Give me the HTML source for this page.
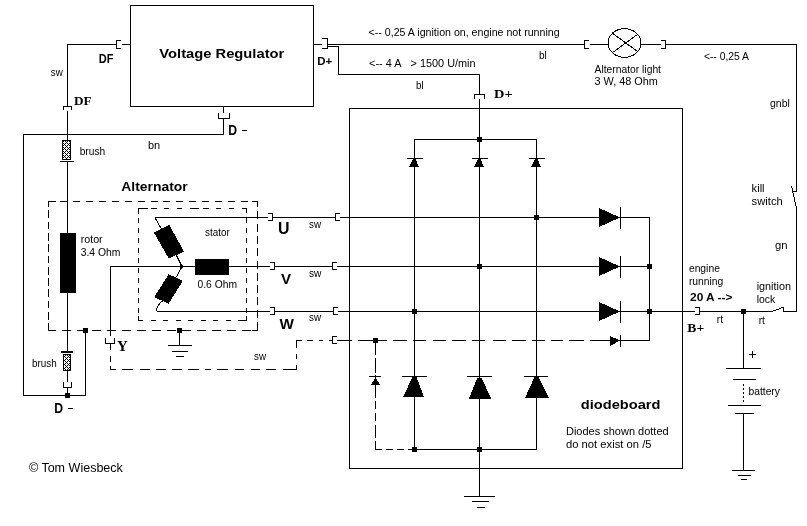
<!DOCTYPE html>
<html><head><meta charset="utf-8"><title>Alternator wiring</title>
<style>
html,body{margin:0;padding:0;background:#fff;}
body{width:807px;height:526px;overflow:hidden;}
svg{display:block;will-change:transform;}
svg rect{fill:#000;}
svg text{fill:#000;}
.d{stroke:#000;stroke-width:1;fill:none;}
.s{stroke:#000;stroke-width:1;fill:none;}
.g{fill:#000;stroke:none;}
</style></head>
<body>
<svg width="807" height="526" viewBox="0 0 807 526" shape-rendering="crispEdges">
<defs>
<pattern id="hatch" x="0" y="0" width="4" height="4" patternUnits="userSpaceOnUse">
<rect x="0" y="0" width="4" height="4" style="fill:#fff"/>
<rect x="0" y="0" width="1" height="1"/><rect x="1" y="1" width="1" height="1"/><rect x="2" y="2" width="1" height="1"/><rect x="3" y="3" width="1" height="1"/>
<rect x="3" y="1" width="1" height="1"/><rect x="1" y="3" width="1" height="1"/>
</pattern>
</defs>
<rect x="0" y="0" width="807" height="526" style="fill:#fff"/>
<rect x="130" y="5" width="184" height="1"/>
<rect x="130" y="106" width="184" height="1"/>
<rect x="130" y="5" width="1" height="102"/>
<rect x="313" y="5" width="1" height="102"/>
<rect x="116" y="40" width="5" height="1"/>
<rect x="116" y="48" width="5" height="1"/>
<rect x="116" y="40" width="1" height="9"/>
<rect x="122" y="44" width="8" height="1"/>
<rect x="67" y="44" width="50" height="1"/>
<rect x="67" y="44" width="1" height="63"/>
<rect x="63" y="106" width="9" height="1"/>
<rect x="63" y="106" width="1" height="4"/>
<rect x="71" y="106" width="1" height="4"/>
<rect x="67" y="111" width="1" height="29"/>
<rect x="314" y="44" width="8" height="1"/>
<rect x="322" y="38" width="6" height="1"/>
<rect x="322" y="48" width="6" height="1"/>
<rect x="327" y="38" width="1" height="11"/>
<rect x="328" y="44" width="256" height="1"/>
<rect x="328" y="46" width="11" height="1"/>
<rect x="338" y="46" width="1" height="29"/>
<rect x="338" y="74" width="142" height="1"/>
<rect x="479" y="74" width="1" height="21"/>
<rect x="474" y="94" width="11" height="1"/>
<rect x="474" y="94" width="1" height="5"/>
<rect x="484" y="94" width="1" height="5"/>
<rect x="479" y="99" width="1" height="398"/>
<rect x="223" y="107" width="1" height="6"/>
<rect x="218" y="118" width="12" height="1"/>
<rect x="218" y="113" width="1" height="6"/>
<rect x="229" y="113" width="1" height="6"/>
<rect x="223" y="118" width="1" height="17"/>
<rect x="23" y="134" width="201" height="1"/>
<rect x="23" y="134" width="1" height="262"/>
<rect x="23" y="395" width="63" height="1"/>
<rect x="85" y="330" width="1" height="66"/>
<rect x="83" y="328" width="5" height="5"/>
<rect x="65" y="393" width="5" height="5"/>
<rect x="62" y="140" width="9" height="1"/>
<rect x="62" y="159" width="9" height="1"/>
<rect x="62" y="140" width="1" height="20"/>
<rect x="70" y="140" width="1" height="20"/>
<rect x="63" y="141" width="7" height="18" style="fill:url(#hatch)"/>
<rect x="60" y="161" width="14" height="1"/>
<rect x="67" y="162" width="1" height="71"/>
<rect x="60" y="233" width="16" height="60"/>
<rect x="67" y="293" width="1" height="58"/>
<rect x="61" y="351" width="12" height="2"/>
<rect x="63" y="354" width="8" height="1"/>
<rect x="63" y="370" width="8" height="1"/>
<rect x="63" y="354" width="1" height="17"/>
<rect x="70" y="354" width="1" height="17"/>
<rect x="64" y="355" width="6" height="15" style="fill:url(#hatch)"/>
<rect x="67" y="371" width="1" height="11"/>
<rect x="63" y="387" width="9" height="1"/>
<rect x="63" y="382" width="1" height="6"/>
<rect x="71" y="382" width="1" height="6"/>
<rect x="67" y="388" width="1" height="8"/>
<line class="d" x1="48" y1="201.5" x2="258" y2="201.5" stroke-dasharray="7 5.9" stroke-dashoffset="0.7"/>
<line class="d" x1="48" y1="330.5" x2="258" y2="330.5" stroke-dasharray="9 6" stroke-dashoffset="1.1"/>
<line class="d" x1="48.5" y1="201" x2="48.5" y2="331" stroke-dasharray="7.7 3.6" stroke-dashoffset="2"/>
<line class="d" x1="257.5" y1="201" x2="257.5" y2="331" stroke-dasharray="8 4.3" stroke-dashoffset="2"/>
<line class="d" x1="138" y1="208.5" x2="247" y2="208.5" stroke-dasharray="9 4 6 7 5 8 5 8" stroke-dashoffset="0"/>
<line class="d" x1="138" y1="320.5" x2="247" y2="320.5" stroke-dasharray="5 7.5" stroke-dashoffset="0"/>
<line class="d" x1="138.5" y1="208" x2="138.5" y2="321" stroke-dasharray="5 5" stroke-dashoffset="0"/>
<line class="d" x1="246.5" y1="208" x2="246.5" y2="321" stroke-dasharray="5 5" stroke-dashoffset="0"/>
<rect x="48" y="201" width="8" height="1"/>
<rect x="48" y="201" width="1" height="6"/>
<rect x="252" y="201" width="6" height="1"/>
<rect x="257" y="201" width="1" height="6"/>
<rect x="48" y="330" width="8" height="1"/>
<rect x="48" y="325" width="1" height="6"/>
<rect x="252" y="330" width="6" height="1"/>
<rect x="257" y="325" width="1" height="6"/>
<rect x="138" y="208" width="10" height="1"/>
<rect x="138" y="208" width="1" height="6"/>
<rect x="242" y="208" width="5" height="1"/>
<rect x="246" y="208" width="1" height="5"/>
<rect x="138" y="320" width="5" height="1"/>
<rect x="138" y="316" width="1" height="5"/>
<rect x="242" y="320" width="5" height="1"/>
<rect x="246" y="316" width="1" height="5"/>
<rect x="110" y="369" width="6" height="1"/>
<rect x="110" y="366" width="1" height="4"/>
<rect x="290" y="369" width="7" height="1"/>
<rect x="296" y="365" width="1" height="5"/>
<rect x="296" y="340" width="6" height="1"/>
<rect x="296" y="340" width="1" height="8"/>
<rect x="375" y="449" width="6" height="1"/>
<rect x="375" y="444" width="1" height="6"/>
<rect x="155" y="217" width="113" height="1"/>
<rect x="110" y="266" width="160" height="1"/>
<rect x="157" y="311" width="113" height="1"/>
<rect x="195" y="259" width="34" height="16"/>
<polygon class="g" points="153.8,232.4 169.2,224.8 184,251.5 168.8,258.6"/>
<path class="s" d="M155,217.5 Q158,224 162,229.5" stroke-width="1"/>
<path class="s" d="M176.5,255.5 L181,264.5" stroke-width="1"/>
<polygon class="g" points="179.8,262.8 184.3,266.5 179.8,270.2"/>
<polygon class="g" points="168.7,274.2 182.9,280.8 168.7,303.6 154.1,297.2"/>
<path class="s" d="M181,268.5 L176.5,277" stroke-width="1"/>
<path class="s" d="M162.5,301 Q157,305 156.5,311" stroke-width="1"/>
<rect x="110" y="266" width="1" height="70"/>
<rect x="105" y="343" width="10" height="1"/>
<rect x="105" y="338" width="1" height="6"/>
<rect x="114" y="338" width="1" height="6"/>
<line class="d" x1="110.5" y1="344" x2="110.5" y2="370" stroke-dasharray="5.5 6.5" stroke-dashoffset="0"/>
<line class="d" x1="110" y1="369.5" x2="297" y2="369.5" stroke-dasharray="6 6 11 7 9.5 6.5 9.5 6 10 6.5 10.5 6" stroke-dashoffset="0"/>
<line class="d" x1="296.5" y1="340" x2="296.5" y2="370" stroke-dasharray="8 6 5 6" stroke-dashoffset="0"/>
<line class="d" x1="296" y1="340.5" x2="332" y2="340.5" stroke-dasharray="6 5 6 6 4 6" stroke-dashoffset="0"/>
<rect x="177" y="328" width="5" height="5"/>
<rect x="179" y="330" width="1" height="16"/>
<rect x="168" y="345" width="24" height="1"/>
<rect x="172" y="351" width="16" height="1"/>
<rect x="176" y="356" width="8" height="1"/>
<rect x="268" y="213" width="5" height="1"/>
<rect x="268" y="220" width="5" height="1"/>
<rect x="272" y="213" width="1" height="8"/>
<rect x="273" y="217" width="62" height="1"/>
<rect x="335" y="213" width="5" height="1"/>
<rect x="335" y="220" width="5" height="1"/>
<rect x="335" y="213" width="1" height="8"/>
<rect x="340" y="217" width="259" height="1"/>
<rect x="270" y="262" width="5" height="1"/>
<rect x="270" y="269" width="5" height="1"/>
<rect x="274" y="262" width="1" height="8"/>
<rect x="275" y="266" width="57" height="1"/>
<rect x="332" y="262" width="5" height="1"/>
<rect x="332" y="269" width="5" height="1"/>
<rect x="332" y="262" width="1" height="8"/>
<rect x="337" y="266" width="262" height="1"/>
<rect x="270" y="307" width="5" height="1"/>
<rect x="270" y="314" width="5" height="1"/>
<rect x="274" y="307" width="1" height="8"/>
<rect x="275" y="311" width="58" height="1"/>
<rect x="333" y="307" width="5" height="1"/>
<rect x="333" y="314" width="5" height="1"/>
<rect x="333" y="307" width="1" height="8"/>
<rect x="338" y="311" width="262" height="1"/>
<rect x="332" y="336" width="5" height="1"/>
<rect x="332" y="343" width="5" height="1"/>
<rect x="332" y="336" width="1" height="8"/>
<line class="d" x1="337" y1="340.5" x2="610" y2="340.5" stroke-dasharray="15 6 29 6 13.5 6.5 13 7 13 6 14 6 13 8 13 6 14 6 13 6 12 6" stroke-dashoffset="0"/>
<rect x="349" y="108" width="334" height="1"/>
<rect x="349" y="468" width="334" height="1"/>
<rect x="349" y="108" width="1" height="361"/>
<rect x="682" y="108" width="1" height="361"/>
<rect x="414" y="139" width="123" height="1"/>
<rect x="477" y="137" width="5" height="5"/>
<rect x="414" y="139" width="1" height="311"/>
<rect x="536" y="139" width="1" height="311"/>
<rect x="407" y="158" width="16" height="1"/>
<polygon class="g" points="413,159 415.5,159 419,167 409,167"/>
<rect x="472" y="158" width="16" height="1"/>
<polygon class="g" points="478,159 480.5,159 484,167 474,167"/>
<rect x="529" y="158" width="16" height="1"/>
<polygon class="g" points="535,159 537.5,159 541,167 531,167"/>
<rect x="402" y="376" width="25" height="1"/>
<polygon class="g" points="412.5,377 416.5,377 424,397 403,397"/>
<rect x="467" y="376" width="25" height="1"/>
<polygon class="g" points="477.5,377.5 481.5,377.5 491,398.5 469,398.5"/>
<rect x="524" y="376" width="24" height="1"/>
<polygon class="g" points="534.5,377 538.5,377 549,398 525,398"/>
<line class="d" x1="375.5" y1="340" x2="375.5" y2="376" stroke-dasharray="15 2.5" stroke-dashoffset="0"/>
<rect x="369" y="376" width="12" height="1"/>
<polygon class="g" points="375.5,377 371,385 380,385"/>
<line class="d" x1="375.5" y1="385" x2="375.5" y2="450" stroke-dasharray="13 3 8 4 8 4" stroke-dashoffset="0"/>
<line class="d" x1="375" y1="449.5" x2="413" y2="449.5" stroke-dasharray="7 4" stroke-dashoffset="0"/>
<rect x="414" y="449" width="123" height="1"/>
<rect x="373" y="338" width="5" height="5"/>
<rect x="412" y="309" width="5" height="5"/>
<rect x="477" y="264" width="5" height="5"/>
<rect x="534" y="215" width="5" height="5"/>
<rect x="412" y="447" width="5" height="5"/>
<rect x="477" y="447" width="5" height="5"/>
<polygon class="g" points="599,208 599,227 620,217.5"/>
<rect x="620" y="207" width="1" height="22"/>
<rect x="621" y="217" width="29" height="1"/>
<polygon class="g" points="599,257 599,276 620,266.5"/>
<rect x="620" y="256" width="1" height="22"/>
<rect x="621" y="266" width="29" height="1"/>
<polygon class="g" points="599,302 599,321 620,311.5"/>
<rect x="620" y="301" width="1" height="22"/>
<rect x="621" y="311" width="29" height="1"/>
<polygon class="g" points="610,336 610,346 620,340.5"/>
<rect x="620" y="335" width="1" height="12"/>
<rect x="621" y="340" width="29" height="1"/>
<rect x="649" y="217" width="1" height="124"/>
<rect x="647" y="264" width="5" height="5"/>
<rect x="647" y="309" width="5" height="5"/>
<rect x="650" y="311" width="45" height="1"/>
<rect x="695" y="307" width="5" height="1"/>
<rect x="695" y="314" width="5" height="1"/>
<rect x="699" y="307" width="1" height="8"/>
<rect x="700" y="311" width="72" height="1"/>
<rect x="741" y="309" width="5" height="5"/>
<path class="s" d="M772,311.5 L784,307" stroke-width="1"/>
<rect x="783" y="307" width="1" height="5"/>
<rect x="783" y="311" width="14" height="1"/>
<rect x="796" y="208" width="1" height="104"/>
<rect x="796" y="44" width="1" height="148"/>
<rect x="793" y="191" width="4" height="1"/>
<path class="s" d="M791.5,186 L796.5,208.5" stroke-width="1"/>
<rect x="584" y="40" width="5" height="1"/>
<rect x="584" y="48" width="5" height="1"/>
<rect x="584" y="40" width="1" height="9"/>
<rect x="590" y="44" width="18" height="1"/>
<ellipse class="s" cx="624.5" cy="43" rx="16.5" ry="14.3"/>
<path class="s" d="M613,33.6 L637.7,51.6" stroke-width="1"/>
<path class="s" d="M637.7,34.3 L613.3,52" stroke-width="1"/>
<rect x="641" y="44" width="20" height="1"/>
<rect x="661" y="40" width="5" height="1"/>
<rect x="661" y="48" width="5" height="1"/>
<rect x="665" y="40" width="1" height="9"/>
<rect x="666" y="44" width="131" height="1"/>
<rect x="743" y="312" width="1" height="57"/>
<rect x="726" y="368" width="35" height="1"/>
<rect x="733" y="379" width="23" height="1"/>
<line class="d" x1="743.5" y1="384" x2="743.5" y2="404" stroke-dasharray="2 2" stroke-dashoffset="0"/>
<rect x="728" y="405" width="33" height="1"/>
<rect x="735" y="413" width="19" height="1"/>
<rect x="743" y="413" width="1" height="58"/>
<rect x="732" y="470" width="23" height="1"/>
<rect x="738" y="475" width="13" height="1"/>
<rect x="741" y="479" width="6" height="1"/>
<rect x="464" y="496" width="31" height="1"/>
<rect x="472" y="501" width="17" height="1"/>
<rect x="477" y="507" width="8" height="1"/>
<text x="159.3" y="57.7" font-family="Liberation Sans, sans-serif" font-size="13" font-weight="bold" textLength="125" lengthAdjust="spacingAndGlyphs">Voltage Regulator</text>
<text x="98.8" y="62.7" font-family="Liberation Sans, sans-serif" font-size="12" font-weight="bold" textLength="14.7" lengthAdjust="spacingAndGlyphs">DF</text>
<text x="50.8" y="75.7" font-family="Liberation Sans, sans-serif" font-size="11" textLength="12" lengthAdjust="spacingAndGlyphs">sw</text>
<text x="74" y="104.8" font-family="Liberation Serif, sans-serif" font-size="12.5" font-weight="bold" textLength="17.6" lengthAdjust="spacingAndGlyphs">DF</text>
<text x="317.3" y="64.6" font-family="Liberation Sans, sans-serif" font-size="11.5" font-weight="bold" textLength="15" lengthAdjust="spacingAndGlyphs">D+</text>
<text x="228.2" y="135" font-family="Liberation Sans, sans-serif" font-size="13.8" font-weight="bold" textLength="8.8" lengthAdjust="spacingAndGlyphs">D</text>
<rect x="242" y="130" width="5" height="1"/>
<text x="148" y="148.6" font-family="Liberation Sans, sans-serif" font-size="11" textLength="12.2" lengthAdjust="spacingAndGlyphs">bn</text>
<text x="79.7" y="154.7" font-family="Liberation Sans, sans-serif" font-size="11" textLength="25.5" lengthAdjust="spacingAndGlyphs">brush</text>
<text x="121.3" y="190.9" font-family="Liberation Sans, sans-serif" font-size="13" font-weight="bold" textLength="66.5" lengthAdjust="spacingAndGlyphs">Alternator</text>
<text x="80.7" y="243" font-family="Liberation Sans, sans-serif" font-size="11" textLength="22" lengthAdjust="spacingAndGlyphs">rotor</text>
<text x="80.7" y="255.8" font-family="Liberation Sans, sans-serif" font-size="11" textLength="39.7" lengthAdjust="spacingAndGlyphs">3.4 Ohm</text>
<text x="205" y="235.8" font-family="Liberation Sans, sans-serif" font-size="11" textLength="24.7" lengthAdjust="spacingAndGlyphs">stator</text>
<text x="197.5" y="287.6" font-family="Liberation Sans, sans-serif" font-size="11" textLength="39.5" lengthAdjust="spacingAndGlyphs">0.6 Ohm</text>
<text x="278" y="234" font-family="Liberation Sans, sans-serif" font-size="16.7" font-weight="bold" textLength="11.5" lengthAdjust="spacingAndGlyphs">U</text>
<text x="280.9" y="284" font-family="Liberation Sans, sans-serif" font-size="14" font-weight="bold" textLength="10.1" lengthAdjust="spacingAndGlyphs">V</text>
<text x="279.4" y="328.6" font-family="Liberation Sans, sans-serif" font-size="14" font-weight="bold" textLength="14.4" lengthAdjust="spacingAndGlyphs">W</text>
<text x="309" y="228" font-family="Liberation Sans, sans-serif" font-size="11" textLength="12" lengthAdjust="spacingAndGlyphs">sw</text>
<text x="309" y="277" font-family="Liberation Sans, sans-serif" font-size="11" textLength="12.5" lengthAdjust="spacingAndGlyphs">sw</text>
<text x="309" y="320.7" font-family="Liberation Sans, sans-serif" font-size="11" textLength="12" lengthAdjust="spacingAndGlyphs">sw</text>
<text x="254" y="359.5" font-family="Liberation Sans, sans-serif" font-size="11" textLength="12" lengthAdjust="spacingAndGlyphs">sw</text>
<text x="117" y="350.8" font-family="Liberation Serif, sans-serif" font-size="15.4" font-weight="bold" textLength="10.8" lengthAdjust="spacingAndGlyphs">Y</text>
<text x="32" y="366.6" font-family="Liberation Sans, sans-serif" font-size="11" textLength="24.7" lengthAdjust="spacingAndGlyphs">brush</text>
<text x="54.2" y="413" font-family="Liberation Sans, sans-serif" font-size="13.8" font-weight="bold" textLength="8.8" lengthAdjust="spacingAndGlyphs">D</text>
<rect x="68" y="408" width="5" height="1"/>
<text x="28.9" y="471.7" font-family="Liberation Sans, sans-serif" font-size="12" textLength="94" lengthAdjust="spacingAndGlyphs">© Tom Wiesbeck</text>
<text x="368.6" y="36.1" font-family="Liberation Sans, sans-serif" font-size="11" textLength="191" lengthAdjust="spacingAndGlyphs">&lt;-- 0,25 A ignition on, engine not running</text>
<text x="369.1" y="66.5" font-family="Liberation Sans, sans-serif" font-size="11" textLength="106.5" lengthAdjust="spacingAndGlyphs">&lt;-- 4 A   &gt; 1500 U/min</text>
<text x="539" y="58.5" font-family="Liberation Sans, sans-serif" font-size="11" textLength="7.8" lengthAdjust="spacingAndGlyphs">bl</text>
<text x="416" y="88.7" font-family="Liberation Sans, sans-serif" font-size="11" textLength="7.6" lengthAdjust="spacingAndGlyphs">bl</text>
<text x="494" y="98" font-family="Liberation Serif, sans-serif" font-size="13" font-weight="bold" textLength="18.6" lengthAdjust="spacingAndGlyphs">D+</text>
<text x="594.5" y="72.5" font-family="Liberation Sans, sans-serif" font-size="11" textLength="66.5" lengthAdjust="spacingAndGlyphs">Alternator light</text>
<text x="594.5" y="85.4" font-family="Liberation Sans, sans-serif" font-size="11" textLength="63.4" lengthAdjust="spacingAndGlyphs">3 W, 48 Ohm</text>
<text x="703.9" y="59.9" font-family="Liberation Sans, sans-serif" font-size="11" textLength="45" lengthAdjust="spacingAndGlyphs">&lt;-- 0,25 A</text>
<text x="770" y="107.1" font-family="Liberation Sans, sans-serif" font-size="11" textLength="19.8" lengthAdjust="spacingAndGlyphs">gnbl</text>
<text x="751.6" y="191.7" font-family="Liberation Sans, sans-serif" font-size="11" textLength="13" lengthAdjust="spacingAndGlyphs">kill</text>
<text x="751.6" y="204.7" font-family="Liberation Sans, sans-serif" font-size="11" textLength="31.2" lengthAdjust="spacingAndGlyphs">switch</text>
<text x="775" y="248.6" font-family="Liberation Sans, sans-serif" font-size="11" textLength="12.6" lengthAdjust="spacingAndGlyphs">gn</text>
<text x="688.9" y="272" font-family="Liberation Sans, sans-serif" font-size="11" textLength="31" lengthAdjust="spacingAndGlyphs">engine</text>
<text x="688.9" y="284.9" font-family="Liberation Sans, sans-serif" font-size="11" textLength="34.4" lengthAdjust="spacingAndGlyphs">running</text>
<text x="690" y="300.7" font-family="Liberation Sans, sans-serif" font-size="11.5" font-weight="bold" textLength="42.5" lengthAdjust="spacingAndGlyphs">20 A --&gt;</text>
<text x="756.7" y="289.7" font-family="Liberation Sans, sans-serif" font-size="11" textLength="34.2" lengthAdjust="spacingAndGlyphs">ignition</text>
<text x="756.7" y="302.7" font-family="Liberation Sans, sans-serif" font-size="11" textLength="18.6" lengthAdjust="spacingAndGlyphs">lock</text>
<text x="716.8" y="322.5" font-family="Liberation Sans, sans-serif" font-size="11" textLength="6.2" lengthAdjust="spacingAndGlyphs">rt</text>
<text x="758.7" y="323.7" font-family="Liberation Sans, sans-serif" font-size="11" textLength="6.2" lengthAdjust="spacingAndGlyphs">rt</text>
<text x="687.3" y="331.8" font-family="Liberation Serif, sans-serif" font-size="12.8" font-weight="bold" textLength="16.9" lengthAdjust="spacingAndGlyphs">B+</text>
<rect x="749" y="354" width="7" height="1"/>
<rect x="752" y="351" width="1" height="7"/>
<text x="748.5" y="395" font-family="Liberation Sans, sans-serif" font-size="11" textLength="31.4" lengthAdjust="spacingAndGlyphs">battery</text>
<text x="580.8" y="408.6" font-family="Liberation Sans, sans-serif" font-size="13" font-weight="bold" textLength="79.6" lengthAdjust="spacingAndGlyphs">diodeboard</text>
<text x="566" y="434.9" font-family="Liberation Sans, sans-serif" font-size="11" textLength="102.6" lengthAdjust="spacingAndGlyphs">Diodes shown dotted</text>
<text x="566" y="448.3" font-family="Liberation Sans, sans-serif" font-size="11" textLength="85.6" lengthAdjust="spacingAndGlyphs">do not exist on /5</text>
</svg>
</body></html>
